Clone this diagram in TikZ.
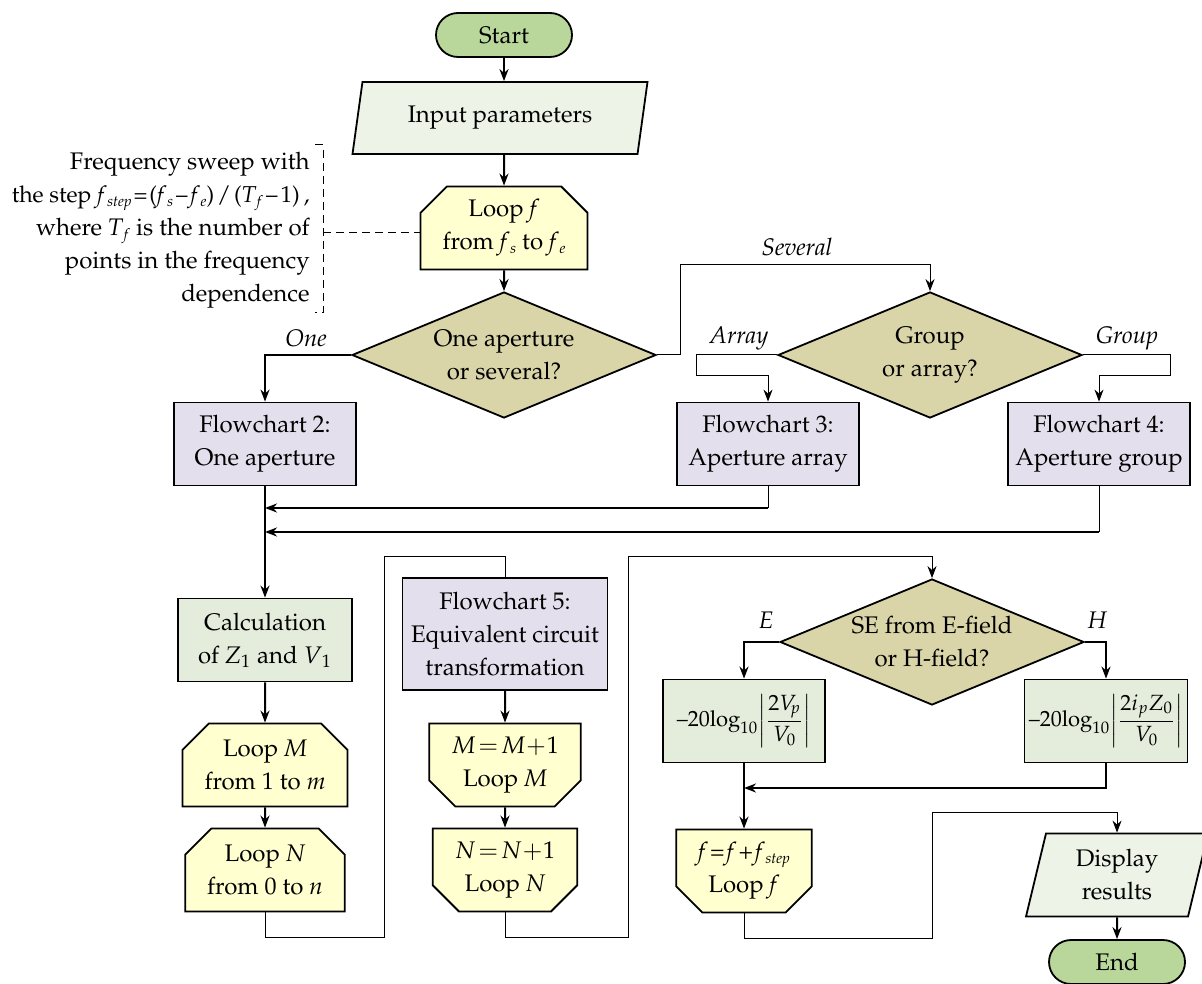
\documentclass[tikz,border=0pt]{standalone}
\usepackage[T1]{fontenc}
\usepackage{mathpazo}
\usepackage{amsmath}
\usetikzlibrary{arrows.meta, positioning, calc, shapes.geometric, shapes.misc}
\definecolor{termgreen}{HTML}{B9D79A}
\definecolor{iofill}{HTML}{EEF3E8}
\definecolor{loopyellow}{HTML}{FFFFCF}
\definecolor{khaki}{HTML}{D9D5A8}
\definecolor{lilac}{HTML}{E4DFEC}
\definecolor{calcgreen}{HTML}{E4EDDC}
\newcommand{\vsub}[2]{\textit{#1}\kern0.3pt\raisebox{-0.35ex}{\fontsize{7.5}{8}\selectfont\textit{#2}}}
\newcommand{\fstep}{\vsub{f}{step}}
\tikzset{
  term/.style={rectangle,rounded corners=11pt,draw,line width=0.9pt,fill=termgreen,
    minimum width=68pt,minimum height=22pt,inner sep=0pt},
  io/.style={trapezium,trapezium left angle=70,trapezium right angle=110,
    trapezium stretches body,draw,line width=0.9pt,fill=iofill,align=center,inner sep=1pt},
  loopbase/.style={chamfered rectangle,chamfered rectangle xsep=10pt,draw,line width=0.9pt,
    fill=loopyellow,align=center,minimum width=67pt,minimum height=41.5pt,inner sep=1pt},
  loopbeg/.style={loopbase,chamfered rectangle corners={north west,north east}},
  loopend/.style={loopbase,chamfered rectangle corners={south west,south east}},
  decision/.style={diamond,draw,line width=0.9pt,fill=khaki,align=center,inner sep=0pt,
    aspect=2.4,minimum width=152pt,minimum height=63pt},
  blk/.style={rectangle,draw,line width=0.9pt,fill=#1,align=center,
    minimum height=41.5pt,inner sep=1pt},
  arrow/.style={-{Stealth[length=6pt,width=4.5pt]},line width=1pt},
  tarrow/.style={-{Stealth[length=6pt,width=4.5pt]},line width=0.5pt},
  wire/.style={line width=0.5pt},
  brlabel/.style={font=\fontsize{12}{14}\selectfont\itshape,inner sep=0pt},
}

\begin{document}
\begin{tikzpicture}[x=0.5pt,y=-0.5pt,font=\fontsize{12}{16.5}\selectfont]
  \useasboundingbox (0,0) rectangle (1202,983);
  % upper part
  \node[term] (start) at (504,35) {Start};
  \node[io,minimum width=147.5pt,minimum height=36pt] (input) at (500,118) {Input parameters};
  \node[loopbeg] (loopf) at (504,228) {Loop \textit{f}\\from \vsub{f}{s} to \vsub{f}{e}};
  \node[decision] (apert) at (504,355) {One aperture\\or several?};
  \node[decision] (kind) at (930,355) {Group\\or array?};
  \node[blk=lilac,minimum width=91pt] (fcone) at (265,444) {Flowchart 2:\\One aperture};
  \node[blk=lilac,minimum width=91pt] (fcarr) at (768,444) {Flowchart 3:\\Aperture array};
  \node[blk=lilac,minimum width=91pt] (fcgrp) at (1099,444) {Flowchart 4:\\Aperture group};

  % note on the frequency loop
  \node[anchor=east,align=right,inner sep=0pt] (note) at (310,230)
    {Frequency sweep with\\
     {\fontsize{11.5}{16.5}\selectfont the step \fstep\kern1pt=\kern1pt(\vsub{f}{s}\kern1.5pt--\kern1.5pt\vsub{f}{e})\kern1.5pt/\kern1.5pt(\vsub{T}{f}\kern1.5pt--\kern1.5pt1)\kern2pt,}\\
     where \vsub{T}{f} is the number of\\
     points in the frequency\\
     dependence};
  \coordinate (brtop) at (323,145);
  \coordinate (brbot) at (323,313);
  \coordinate (brmid) at (323,233);
  \draw[wire,dash pattern=on 4pt off 2.5pt] ($(brtop)+(-8,0)$) -- (brtop) -- (brbot) -- ++(-8,0);
  \draw[wire,dash pattern=on 4pt off 2.5pt] (brmid) -- (brmid -| loopf.west);

  % lower part
  \node[blk=calcgreen,minimum width=87pt] (calc) at (265,640)
    {Calculation\\of \textit{Z}\textsubscript{1} and \textit{V}\textsubscript{1}};
  \node[loopbeg] (loopM) at (265,765) {Loop \textit{M}\\from 1 to \textit{m}};
  \node[loopbeg] (loopN) at (265,870) {Loop \textit{N}\\from 0 to \textit{n}};
  \node[blk=lilac,minimum width=102.5pt,minimum height=56pt] (fcequ) at (505,634)
    {Flowchart 5:\\Equivalent circuit\\transformation};
  \node[loopend] (incM) at (505,765) {$M\!=\!M\!+\!1$\\Loop \textit{M}};
  \node[loopend] (incN) at (505,870) {$N\!=\!N\!+\!1$\\Loop \textit{N}};
  \node[decision] (field) at (932,642) {SE from E-field\\or H-field?};
  \node[blk=calcgreen,minimum width=81pt,font=\fontsize{11}{12}\selectfont] (seE) at (744,721)
    {$\text{--}20\mathrm{log}_{10}\!\left|\dfrac{2V_{\!p}}{V_0}\right|$};
  \node[blk=calcgreen,minimum width=81.5pt,font=\fontsize{11}{12}\selectfont] (seH) at (1106,721)
    {$\text{--}20\mathrm{log}_{10}\!\left|\dfrac{2i_pZ_0}{V_0}\right|$};
  \node[loopend,minimum width=63.5pt] (incf) at (744,871)
    {\textit{f}\kern1pt=\kern1pt\textit{f}\kern1pt+\kern1pt\fstep\\Loop \textit{f}};
  \node[io,minimum width=91pt,minimum height=41.5pt] (disp) at (1117,875) {Display\\results};
  \node[term] (end) at (1117,962) {End};

  % branch labels
  \node[brlabel] (lone) at (306,338) {One};
  \node[brlabel] (lsev) at (797,247) {Several};
  \node[brlabel] (larr) at (739,338) {Array};
  \node[brlabel] (lgrp) at (1127,338) {Group};
  \node[brlabel] (lE) at (766,620) {$E$};
  \node[brlabel] (lH) at (1097,620) {$H$};

  % connectors
  \coordinate (sev) at (680,265);
  \coordinate (arr) at (696,376);
  \coordinate (grp) at (1170,376);
  \coordinate (joinA) at (265,508);
  \coordinate (joinB) at (265,532);
  \coordinate (upA) at (384,937);
  \coordinate (topA) at (384,556);
  \coordinate (upB) at (628,937);
  \coordinate (topB) at (628,556);
  \coordinate (joinC) at (744,788);
  \coordinate (upC) at (932,938);
  \coordinate (topC) at (932,812);

  \draw[arrow] (start) -- (start |- input.north);
  \draw[arrow] (loopf |- input.south) -- (loopf);
  \draw[arrow] (loopf) -- (apert);
  \draw[arrow] (apert.west) -| (fcone.north);
  \draw[tarrow] (apert.east) -| (sev) -| (kind.north);
  \draw[tarrow] (kind.west) -| (arr) -| (fcarr.north);
  \draw[tarrow] (kind.east) -| (grp) -| (fcgrp.north);
  \draw[wire] (fcarr.south) -- (fcarr.south |- joinA);
  \draw[arrow] (fcarr.south |- joinA) -- (joinA);
  \draw[wire] (fcgrp.south) -- (fcgrp.south |- joinB);
  \draw[arrow] (fcgrp.south |- joinB) -- (joinB);
  \draw[arrow] (fcone) -- (calc);
  \draw[arrow] (calc) -- (loopM);
  \draw[arrow] (loopM) -- (loopN);
  \draw[wire] (loopN.south) |- (upA) -- (topA) -| (fcequ.north);
  \draw[arrow] (fcequ) -- (incM);
  \draw[arrow] (incM) -- (incN);
  \draw[tarrow] (incN.south) |- (upB) -- (topB) -| (field.north);
  \draw[arrow] (field.west) -| (seE.north);
  \draw[arrow] (field.east) -| (seH.north);
  \draw[arrow] (seE) -- (incf);
  \draw[arrow] (seH.south) |- (joinC);
  \draw[tarrow] (incf.south) |- (upC) -- (topC) -| (disp.north);
  \draw[arrow] (disp) -- (end);
\end{tikzpicture}
\end{document}
